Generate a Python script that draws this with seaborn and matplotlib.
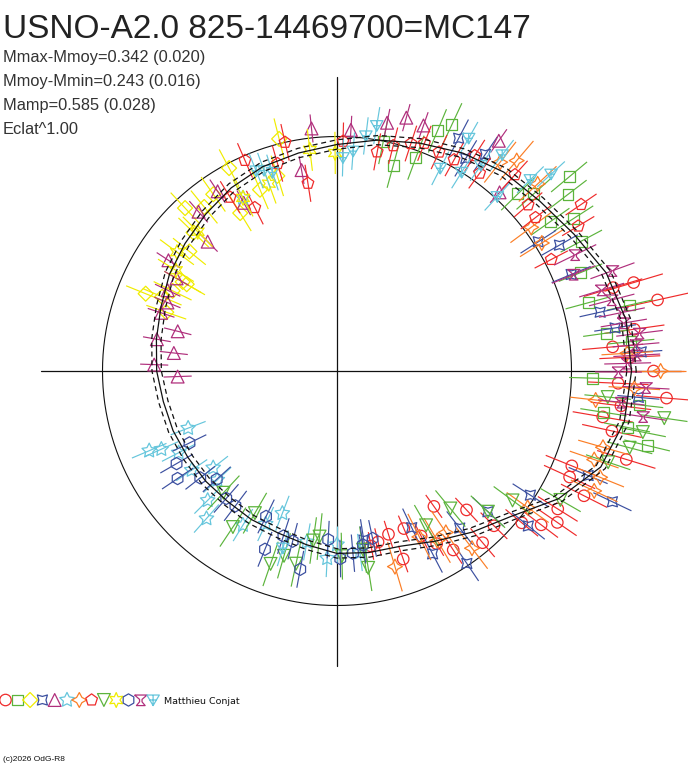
import numpy as np
import matplotlib
matplotlib.use("Agg")
import matplotlib.pyplot as plt
from matplotlib.path import Path
import seaborn as sns

# texts
title = "USNO-A2.0 825-14469700=MC147"
stats_lines = ["Mmax-Mmoy=0.342 (0.020)", "Mmoy-Mmin=0.243 (0.016)",
               "Mamp=0.585 (0.028)", "Eclat^1.00"]
observer = "Matthieu Conjat"
credit = "(c)2026 OdG-R8"

# fitted curve (relative brightness, mean = 1) every 10 deg of phase
curve_ang = list(range(0, 360, 10))
curve_r = [1.256, 1.252, 1.222, 1.167, 1.128, 1.107, 1.073, 1.034, 1.000, 0.966,
           0.944, 0.927, 0.902, 0.872, 0.846, 0.825, 0.799, 0.782, 0.769, 0.752,
           0.744, 0.735, 0.731, 0.726, 0.731, 0.735, 0.752, 0.778, 0.786, 0.795,
           0.838, 0.897, 0.966, 1.090, 1.197, 1.244]
curve_sig = 0.02

# observations: phase angle (deg), relative brightness, error
red_circle_ang = [-2.5, -4.7, -9.8, -12.3, -17, -22, -24.5, 0, 12.5, 16.6, 2.7, 16.8, -26.8, -32,
                  -34.5, -37, -39.4, -44.6, -49.7, -47, -54.4, -57, -67, -72.5, -76.5, -70.6,
                  -79, 5, 8, -7, -60, -63]
red_circle_r = [1.20, 1.41, 1.15, 1.20, 1.29, 1.08, 1.09, 1.35, 1.40, 1.32, 1.25, 1.23, 1.18, 1.11,
                1.14, 1.09, 1.02, 0.94, 0.96, 0.81, 0.71, 0.91, 0.73, 0.73, 0.75, 0.85,
                0.76, 1.18, 1.28, 1.22, 0.85, 0.79]
red_circle_err = [0.13, 0.13, 0.13, 0.13, 0.13, 0.12, 0.12, 0.13, 0.14, 0.13, 0.13, 0.13, 0.11, 0.10,
                  0.10, 0.09, 0.09, 0.08, 0.08, 0.07, 0.06, 0.07, 0.06, 0.06, 0.06, 0.06,
                  0.06, 0.13, 0.13, 0.13, 0.06, 0.06]

green_square_ang = [65, 67.3, 78.6, 74.7, 69.7, 39.9, 37.4, 32.8, 35, 44.4, 42, 15.2, 12.7, 8,
                    5.7, -1.6, -8.8, -11, -13.5, -6.4, 28, 22]
green_square_r = [1.16, 1.11, 1.00, 0.91, 0.97, 1.29, 1.24, 1.20, 1.11, 1.08, 1.13, 1.11, 1.28, 1.16,
                  1.26, 1.09, 1.15, 1.26, 1.36, 1.30, 1.18, 1.12]

yellow_diamond_ang = [104, 118, 133, 129, 121.5, 113, 107, 150, 136, 158, 150, 154, 157, 161, 141, 125]
yellow_diamond_r = [1.02, 0.98, 0.95, 0.90, 0.79, 0.84, 0.87, 0.76, 0.85, 0.88, 0.74, 0.78, 0.81,
                    0.77, 0.81, 0.92]

blue_star4_ang = [62.4, 55.6, 58.8, 29.5, 22.4, 32.7, 12.6, 8.8, 3.6, -5, -32.7, -39, -43, -52,
                  -56, -62.4, -64.5, -25.4, -22.6, -81]
blue_star4_r = [1.12, 1.12, 1.06, 1.09, 1.08, 1.02, 1.15, 1.20, 1.30, 1.29, 0.98, 1.05, 0.88, 0.85,
                0.99, 0.88, 0.74, 1.30, 1.16, 0.73]

magenta_tri_ang = [96, 123.6, 131, 119, 135, 100, 146.7, 150, 154.5, 166, 170, 173.7, 178, 182,
                   158, 161.7, 86.7, 78.6, 74.7, 70.6, 54.9, 47.7]
magenta_tri_r = [1.04, 0.92, 0.90, 0.82, 0.78, 0.87, 0.86, 0.79, 0.80, 0.70, 0.78, 0.70, 0.78, 0.68,
                 0.78, 0.79, 1.03, 1.08, 1.12, 1.11, 1.20, 1.03]

cyan_star5_ang = [-159, -156, -152.7, -145.7, -142, -135, -131.5, -137.7, -121.4, -111, -115, -100,
                  -93, -90, -82.8, 118.5, -157]
cyan_star5_r = [0.68, 0.82, 0.76, 0.75, 0.67, 0.78, 0.84, 0.69, 0.77, 0.65, 0.72, 0.74,
                0.80, 0.74, 0.78, 0.84, 0.87]

orange_star4_ang = [-6.4, 0, 3.5, -3.3, -16, -22, -19, -25, -35.6, -52.7, -59.4, -56, -63.6, -73.5,
                    49.5, 52, 43, 36.5, 32]
orange_star4_r = [1.11, 1.38, 1.24, 1.27, 1.18, 1.21, 1.16, 1.21, 1.00, 0.95, 0.84, 0.83, 0.79, 0.87,
                  1.18, 1.13, 1.17, 1.03, 1.03]

red_pent_ang = [102.8, 113.6, 106, 121.6, 116.7, 98.8, 88.5, 79.6, 76, 72, 69, 65, 61, 57.4, 54.2,
                47.8, 41, 34.3, 31, 27.5, 37.7]
red_pent_r = [1.00, 0.98, 0.92, 0.87, 0.78, 0.81, 0.98, 0.95, 0.99, 1.02, 1.04, 1.03, 1.03, 1.09, 1.04,
              1.13, 1.08, 1.26, 1.20, 1.03, 1.07]

green_vtri_ang = [-5.5, -8.2, -11.3, -14.7, -18.6, -36.4, -50.5, -60, -43, -81, -133, -120, -123.7,
                  -109, -106, -102, -98, -96, -88.5, -81.7, -30]
green_vtri_r = [1.16, 1.41, 1.33, 1.29, 1.22, 0.93, 0.76, 0.76, 0.88, 0.85, 0.71, 0.70, 0.80,
                0.87, 0.82, 0.84, 0.73, 0.71, 0.79, 0.77, 1.10]

yellow_star6_ang = [110, 118.5, 135, 143.4, 148, 97, 90.5]
yellow_star6_r = [0.85, 0.84, 0.84, 0.85, 0.81, 0.95, 0.93]

blue_hex_ang = [-154, -150, -146, -142, -138, -131, -127, -116, -112, -108, -104.6, -100.5, -93,
                -89, -85, -81.5, -78]
blue_hex_r = [0.70, 0.79, 0.82, 0.74, 0.69, 0.72, 0.72, 0.69, 0.82, 0.74, 0.75, 0.86, 0.72,
              0.80, 0.78, 0.75, 0.73]

magenta_tripod_ang = [17, 14.5, 11.6, 9.5, 7.1, 5, -0.2, -3.1, -6.3, -8.5, 22.2, 20, 26, 3, 1.5]
magenta_tripod_r = [1.18, 1.21, 1.24, 1.24, 1.30, 1.28, 1.20, 1.32, 1.22, 1.32, 1.09, 1.25, 1.13,
                    1.28, 1.24]

cyan_ankh_ang = [80.8, 83, 85.8, 88.4, 63, 57.9, 60.5, 52.6, 55, 47.4, 44.7, 42.6, 112, 110, 108, -107]
cyan_ankh_r = [1.06, 1.01, 0.94, 0.91, 0.97, 1.00, 1.14, 1.16, 1.07, 1.01, 1.16, 1.24, 0.92, 0.91,
               0.89, 0.79]

# custom marker shapes
tripod = Path([(-1, 0.8), (1, 0.8), (0.2, 0.1), (0.2, -0.3), (0.7, -0.9), (-0.7, -0.9),
               (-0.2, -0.3), (-0.2, 0.1), (-1, 0.8)])
ankh = Path([(-1, 0.8), (1, 0.8), (0, -0.9), (-1, 0.8), (0, 0.8), (0, -0.9), (-0.6, 0.0), (0.6, 0.0)],
            [Path.MOVETO, Path.LINETO, Path.LINETO, Path.CLOSEPOLY,
             Path.MOVETO, Path.LINETO, Path.MOVETO, Path.LINETO])

RED, GREEN, YELLOW = "#ef2b2b", "#5cb43c", "#f0ec00"
BLUE, MAGENTA, CYAN, ORANGE = "#3c50a0", "#b02f7c", "#66c6dc", "#fb7e26"

# (angles, values, errors, marker, colour, marker size)
series = [
    (red_circle_ang, red_circle_r, red_circle_err, "o", RED, 68),
    (green_square_ang, green_square_r, 0.10, "s", GREEN, 62),
    (yellow_diamond_ang, yellow_diamond_r, 0.09, "D", YELLOW, 58),
    (blue_star4_ang, blue_star4_r, 0.09, (4, 1, 45), BLUE, 105),
    (magenta_tri_ang, magenta_tri_r, 0.06, "^", MAGENTA, 85),
    (cyan_star5_ang, cyan_star5_r, 0.08, (5, 1, 0), CYAN, 120),
    (orange_star4_ang, orange_star4_r, 0.11, (4, 1, 0), ORANGE, 115),
    (red_pent_ang, red_pent_r, 0.08, "p", RED, 78),
    (green_vtri_ang, green_vtri_r, 0.10, "v", GREEN, 85),
    (yellow_star6_ang, yellow_star6_r, 0.09, (6, 1, 0), YELLOW, 115),
    (blue_hex_ang, blue_hex_r, 0.08, "h", BLUE, 78),
    (magenta_tripod_ang, magenta_tripod_r, 0.10, tripod, MAGENTA, 80),
    (cyan_ankh_ang, cyan_ankh_r, 0.08, ankh, CYAN, 80),
]

sns.set_style("white")
plt.rcParams["font.family"] = ["Liberation Sans", "DejaVu Sans"]

W, H = 688, 768
CX, CY = 337, 371          # centre in pixels (from top)
PX = 234.5                 # pixels per unit brightness
RMAX = 1.6

fig = plt.figure(figsize=(W / 100, H / 100), dpi=100)
half = RMAX * PX
ax = fig.add_axes([(CX - half) / W, (H - CY - half) / H, 2 * half / W, 2 * half / H],
                  projection="polar")
ax.patch.set_alpha(0)

# reference circle and axis cross
t = np.linspace(0, 2 * np.pi, 361)
ax.plot(t, np.ones_like(t), color="#111111", lw=0.8, zorder=1)
for a, l in [(0, 1.466), (np.pi / 2, 1.252), (np.pi, 1.261), (3 * np.pi / 2, 1.256)]:
    ax.plot([a, a], [0, l], color="#111111", lw=0.9, zorder=1)

# observations
for i, (ang, r, err, mk, col, sz) in enumerate(series):
    th = np.deg2rad(ang)
    ax.errorbar(th, r, yerr=err, fmt="none", ecolor=col, elinewidth=0.85, capsize=0, zorder=3 + i)
    sns.scatterplot(x=th, y=r, ax=ax, marker=mk, s=sz, color=col, facecolor="none",
                    edgecolor=col, linewidth=0.9, zorder=3 + i)

# fitted curve with +-1 sigma
th_c = np.deg2rad(curve_ang + [curve_ang[0] + 360])
rc = np.array(curve_r + [curve_r[0]])
ax.plot(th_c, rc, color="#111111", lw=0.9, zorder=40)
ax.plot(th_c, rc + curve_sig, color="#111111", lw=0.9, ls=(0, (4, 3)), zorder=40)
ax.plot(th_c, rc - curve_sig, color="#111111", lw=0.9, ls=(0, (4, 3)), zorder=40)

ax.set_ylim(0, RMAX)
ax.grid(False)
ax.set_xticks([])
ax.set_yticks([])
ax.spines["polar"].set_visible(False)
ax.set_xlabel("")
ax.set_ylabel("")

# legend strip in pixel coordinates
lax = fig.add_axes([0, 0, 1, 1])
lax.set_xlim(0, W)
lax.set_ylim(H, 0)
lax.axis("off")
lax.patch.set_alpha(0)
for i, (ang, r, err, mk, col, sz) in enumerate(series):
    sns.scatterplot(x=[5.5 + 12.3 * i], y=[700], ax=lax, marker=mk, s=sz, color=col,
                    facecolor="none", edgecolor=col, linewidth=0.9)
lax.text(164, 704, observer, fontsize=6.8, family="DejaVu Sans", color="#111111", va="baseline")
lax.text(3, 761, credit, fontsize=6, color="#111111", va="baseline")

# header
lax.text(3, 38, title, fontsize=24, color="#222222", va="baseline")
for j, s in enumerate(stats_lines):
    lax.text(3, 62 + 24 * j, s, fontsize=11.8, color="#333333", va="baseline")

fig.savefig("out.png", dpi=100)
